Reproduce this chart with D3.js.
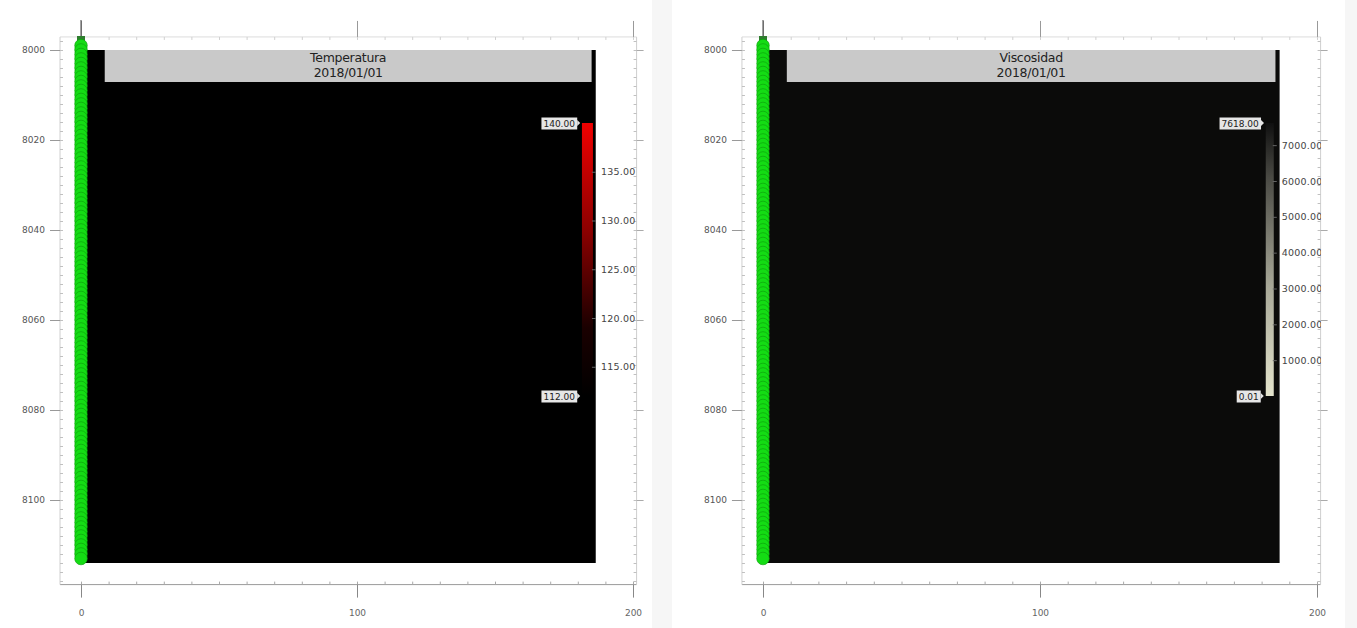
<!DOCTYPE html>
<html><head><meta charset="utf-8">
<script src="https://cdn.jsdelivr.net/npm/d3@7"></script>
<style>body{margin:0;background:#fff;} svg{display:block;} text{font-family:"DejaVu Sans",sans-serif;}</style>
</head><body><svg id="c" width="1357" height="628"></svg>
<script>
// ---- data ----
const xTicks = [0, 100, 200];
const yTicks = [8000, 8020, 8040, 8060, 8080, 8100];
const xDomain = [0, 200];
const yDomain = [8000, 8100];
const gridX = [0, 186.5];          // model extent (x)
const gridY = [8000, 8114];        // model extent (depth)
const wellX = 0;
const wellDepths = [7999,8000,8001,8002,8003,8004,8005,8006,8007,8008,8009,8010,8011,8012,8013,8014,8015,8016,8017,8018,8019,8020,8021,8022,8023,8024,8025,8026,8027,8028,8029,8030,8031,8032,8033,8034,8035,8036,8037,8038,8039,8040,8041,8042,8043,8044,8045,8046,8047,8048,8049,8050,8051,8052,8053,8054,8055,8056,8057,8058,8059,8060,8061,8062,8063,8064,8065,8066,8067,8068,8069,8070,8071,8072,8073,8074,8075,8076,8077,8078,8079,8080,8081,8082,8083,8084,8085,8086,8087,8088,8089,8090,8091,8092,8093,8094,8095,8096,8097,8098,8099,8100,8101,8102,8103,8104,8105,8106,8107,8108,8109,8110,8111,8112,8113];
const panelTitles = ["Temperatura", "Viscosidad"];
const panelDate = "2018/01/01";
const tempRange = [112.00, 140.00];
const tempTicks = [115, 120, 125, 130, 135];
const viscRange = [0.01, 7618.00];
const viscTicks = [1000, 2000, 3000, 4000, 5000, 6000, 7000];

const svg = d3.select("#c");

// separator between panels
svg.append("rect").attr("x", 652).attr("y", 0).attr("width", 20).attr("height", 628).attr("fill", "#f6f6f6");
svg.append("rect").attr("x", 1345).attr("y", 0).attr("width", 12).attr("height", 628).attr("fill", "#f6f6f6");

function panel(cfg) {
  const g = svg.append("g");
  const x = d3.scaleLinear().domain(xDomain).range([cfg.x0, cfg.x1]);
  const y = d3.scaleLinear().domain(yDomain).range([50, 500]);
  const clipId = "clip" + cfg.id;
  const defs = g.append("defs");
  defs.append("clipPath").attr("id", clipId).append("rect")
    .attr("x", cfg.clipL).attr("y", 0).attr("width", cfg.clipR - cfg.clipL).attr("height", 628);
  defs.append("clipPath").attr("id", clipId + "b").append("rect")
    .attr("x", cfg.clipL).attr("y", 0).attr("width", cfg.cbClip - cfg.clipL).attr("height", 628);
  const gc = g.append("g").attr("clip-path", `url(#${clipId})`);

  const left = x(-7.6), right = x(201.3), top = y(7997.1), bottom = y(8118.8);
  const axCol = "#9a9a9a";
  gc.append("line").attr("x1", left).attr("x2", right).attr("y1", top).attr("y2", top).attr("stroke", "#dcdcdc");
  gc.append("line").attr("x1", left).attr("x2", right).attr("y1", bottom).attr("y2", bottom).attr("stroke", axCol);
  gc.append("line").attr("x1", left).attr("x2", left).attr("y1", top).attr("y2", bottom).attr("stroke", "#cfcfcf");
  gc.append("line").attr("x1", right).attr("x2", right).attr("y1", top).attr("y2", bottom).attr("stroke", "#cfcfcf");

  // minor ticks
  const xMinor = d3.range(0, 201, 10);
  const yMinor = d3.range(7998, 8119, 2);
  const bAx = d3.axisBottom(x).tickValues(xMinor).tickSize(-3).tickFormat("");
  gc.append("g").attr("transform", `translate(0,${bottom})`).call(bAx).call(s => { s.select(".domain").remove(); s.selectAll("line").attr("stroke", "#aaa"); });
  const tAx = d3.axisTop(x).tickValues(xMinor).tickSize(-3).tickFormat("");
  gc.append("g").attr("transform", `translate(0,${top})`).call(tAx).call(s => { s.select(".domain").remove(); s.selectAll("line").attr("stroke", "#d0d0d0"); });
  const lAx = d3.axisLeft(y).tickValues(yMinor).tickSize(-3).tickFormat("");
  gc.append("g").attr("transform", `translate(${left},0)`).call(lAx).call(s => { s.select(".domain").remove(); s.selectAll("line").attr("stroke", "#c0c0c0"); });
  const rAx = d3.axisRight(y).tickValues(yMinor).tickSize(-3).tickFormat("");
  gc.append("g").attr("transform", `translate(${right},0)`).call(rAx).call(s => { s.select(".domain").remove(); s.selectAll("line").attr("stroke", "#c0c0c0"); });

  // major ticks + labels
  const bMaj = d3.axisBottom(x).tickValues(xTicks).tickSize(13).tickPadding(12).tickFormat(d3.format("d"));
  gc.append("g").attr("transform", `translate(0,${bottom})`).call(bMaj).call(s => {
    s.select(".domain").remove(); s.selectAll("line").attr("stroke", "#888");
    s.selectAll("text").attr("fill", "#666").attr("font-size", 9);
  });
  const tMaj = d3.axisTop(x).tickValues(xTicks).tickSize(16).tickFormat("");
  gc.append("g").attr("transform", `translate(0,${top})`).call(tMaj).call(s => { s.select(".domain").remove(); s.selectAll("line").attr("stroke", "#999"); });
  const lMaj = d3.axisLeft(y).tickValues(yTicks).tickSize(10).tickPadding(5).tickFormat(d3.format("d"));
  gc.append("g").attr("transform", `translate(${left},0)`).call(lMaj).call(s => {
    s.select(".domain").remove(); s.selectAll("line").attr("stroke", "#999");
    s.selectAll("text").attr("fill", "#555").attr("font-size", 9);
  });
  const rMaj = d3.axisRight(y).tickValues(yTicks).tickSize(7).tickFormat("");
  gc.append("g").attr("transform", `translate(${right},0)`).call(rMaj).call(s => { s.select(".domain").remove(); s.selectAll("line").attr("stroke", "#aaa"); });

  // model block
  gc.append("rect").attr("x", x(gridX[0])).attr("y", y(gridY[0]))
    .attr("width", x(gridX[1]) - x(gridX[0])).attr("height", y(gridY[1]) - y(gridY[0]))
    .attr("fill", cfg.bg);

  // title box
  const tb = gc.append("g");
  tb.append("rect").attr("x", x(8.6)).attr("y", y(8000)).attr("width", x(185) - x(8.6)).attr("height", 32).attr("fill", "#c9c9c9");
  const cx = (x(8.6) + x(185)) / 2;
  tb.append("text").attr("x", cx).attr("y", 62).attr("text-anchor", "middle").attr("font-size", 12.5).attr("letter-spacing", -0.3).attr("fill", "#222").text(cfg.title);
  tb.append("text").attr("x", cx).attr("y", 77).attr("text-anchor", "middle").attr("font-size", 12.5).attr("letter-spacing", -0.3).attr("fill", "#222").text(panelDate);

  // well
  gc.append("line").attr("x1", x(wellX)).attr("x2", x(wellX)).attr("y1", 20).attr("y2", 40).attr("stroke", "#444");
  gc.append("rect").attr("x", x(wellX) - 4).attr("y", 36).attr("width", 8).attr("height", 12).attr("fill", "#2f7d2f");
  gc.selectAll("circle.w").data(wellDepths).enter().append("circle")
    .attr("cx", x(wellX)).attr("cy", d => y(d)).attr("r", 6.3)
    .attr("fill", "#14dc14").attr("stroke", "#0c9a0c").attr("stroke-width", 0.6);

  // colour bar
  const cb = cfg.cb;
  const cy = d3.scaleLinear().domain(cb.range).range([396, 123]);
  const gid = "grad" + cfg.id;
  const grad = defs.append("linearGradient").attr("id", gid).attr("x1", 0).attr("x2", 0).attr("y1", 1).attr("y2", 0);
  cb.stops.forEach(s => grad.append("stop").attr("offset", s[0]).attr("stop-color", s[1]));
  const barX = x(cb.barX);
  gc.append("rect").attr("x", barX).attr("y", cy(cb.range[1])).attr("width", cb.w).attr("height", cy(cb.range[0]) - cy(cb.range[1]))
    .attr("fill", `url(#${gid})`);
  const cax = d3.axisRight(cy).tickValues(cb.ticks).tickSize(4).tickPadding(2).tickFormat(d3.format(".2f"));
  g.append("g").attr("clip-path", `url(#${clipId}b)`).append("g").attr("transform", `translate(${barX + cb.w + 2},0)`).call(cax).call(s => {
    s.select(".domain").remove(); s.selectAll("line").attr("stroke", "#666").attr("transform", "translate(-3,0)");
    s.selectAll("text").attr("fill", "#444").attr("font-size", 9.5).attr("letter-spacing", 0.2);
  });
  // min/max labels
  [cb.range[1], cb.range[0]].forEach(v => {
    const t = d3.format(".2f")(v);
    const lg = gc.append("g");
    const tx = gc.append("text").attr("x", barX - 7).attr("y", cy(v) + 3.5).attr("text-anchor", "end").attr("font-size", 9).attr("fill", "#222").text(t);
    const bb = tx.node().getBBox();
    lg.append("rect").attr("x", bb.x - 2).attr("y", bb.y - 1).attr("width", bb.width + 4).attr("height", bb.height + 2).attr("fill", "#e6e6e6");
    lg.append("path").attr("d", `M${bb.x + bb.width + 2},${cy(v) - 3}L${bb.x + bb.width + 5},${cy(v)}L${bb.x + bb.width + 2},${cy(v) + 3}Z`).attr("fill", "#e6e6e6");
    tx.raise();
  });
}

panel({ id: 1, x0: 81, x1: 633, clipL: 0, clipR: 652, cbClip: 652, bg: "#000", title: panelTitles[0],
  cb: { range: tempRange, ticks: tempTicks, barX: 181.5, w: 11,
        stops: [[0, "#000000"], [0.25, "#1a0000"], [0.6, "#8a0000"], [1, "#f00000"]] } });
panel({ id: 2, x0: 763, x1: 1317, clipL: 672, clipR: 1345, cbClip: 1321, bg: "#0b0b0a", title: panelTitles[1],
  cb: { range: viscRange, ticks: viscTicks, barX: 181.5, w: 8,
        stops: [[0, "#e4e4cc"], [0.4, "#a8a898"], [0.8, "#4a4a44"], [1, "#101010"]] } });
</script></body></html>
